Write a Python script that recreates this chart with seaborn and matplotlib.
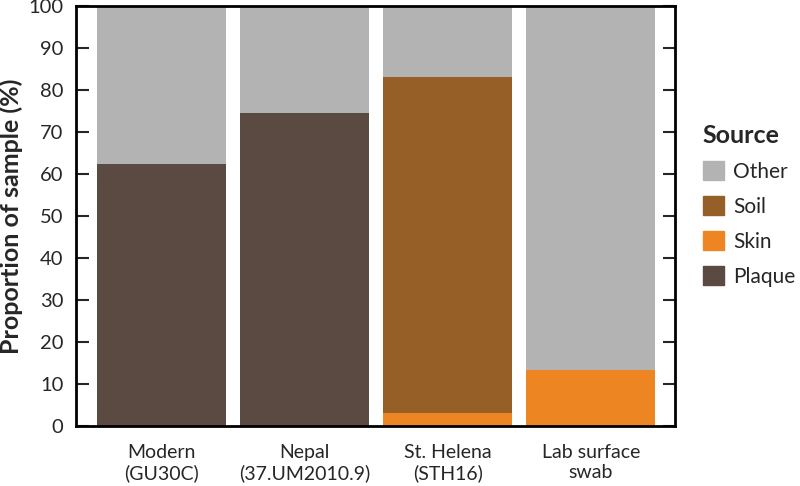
import matplotlib
matplotlib.use('Agg')
import matplotlib.pyplot as plt
import matplotlib.patches as mpatches
import pandas as pd
import seaborn as sns

# values (percent of sample)
samples = ['Modern\n(GU30C)', 'Nepal\n(37.UM2010.9)', 'St. Helena\n(STH16)', 'Lab surface\nswab']
plaque = [62.3, 74.6, 0.0, 0.0]
skin = [0.0, 0.0, 3.2, 13.3]
soil = [0.0, 0.0, 79.8, 0.0]
other = [37.7, 25.4, 17.0, 86.7]

sources = ['Other', 'Soil', 'Skin', 'Plaque']
colors = {'Other': '#b3b3b3', 'Soil': '#955f27', 'Skin': '#ec8522', 'Plaque': '#5a4a41'}

df = pd.DataFrame({'sample': samples, 'Plaque': plaque, 'Skin': skin,
                   'Soil': soil, 'Other': other})
# cumulative tops, stacked bottom-up: Plaque, Skin, Soil, Other
df['Plaque_top'] = df['Plaque']
df['Skin_top'] = df['Plaque_top'] + df['Skin']
df['Soil_top'] = df['Skin_top'] + df['Soil']
df['Other_top'] = df['Soil_top'] + df['Other']

sns.set_style('ticks')
plt.rcParams['font.family'] = ['Lato', 'DejaVu Sans']

fig = plt.figure(figsize=(8, 4.86), dpi=100)
ax = fig.add_axes([0.095, 0.1235, 0.749, 0.864])

# draw tallest first so the lower segments sit on top
for src in sources:
    sns.barplot(data=df, x='sample', y=src + '_top', color=colors[src],
                width=0.9, saturation=1, linewidth=0, ax=ax)

ax.set_xlim(-0.598, 3.59)
ax.set_ylim(0, 100)
ax.set_yticks(range(0, 101, 10))
ax.set_xlabel('')
ax.set_ylabel('Proportion of sample (%)', fontsize=18, fontweight='bold', labelpad=4)
ax.tick_params(axis='y', direction='in', length=9, width=1.5, labelsize=14.5,
               right=True, pad=9)
ax.tick_params(axis='x', length=0, labelsize=14, pad=13)
for s in ax.spines.values():
    s.set_linewidth(2)
    s.set_color('black')

handles = [mpatches.Patch(color=colors[s], label=s) for s in sources]
leg = fig.legend(handles=handles, title='Source', loc='upper left',
                 bbox_to_anchor=(0.868, 0.762), frameon=False, fontsize=15,
                 title_fontproperties={'weight': 'bold', 'size': 18},
                 handlelength=1.0, handleheight=1.05, handletextpad=0.45,
                 labelspacing=0.68, borderaxespad=0)
leg._legend_box.align = 'left'

fig.savefig('out.png', dpi=100)
